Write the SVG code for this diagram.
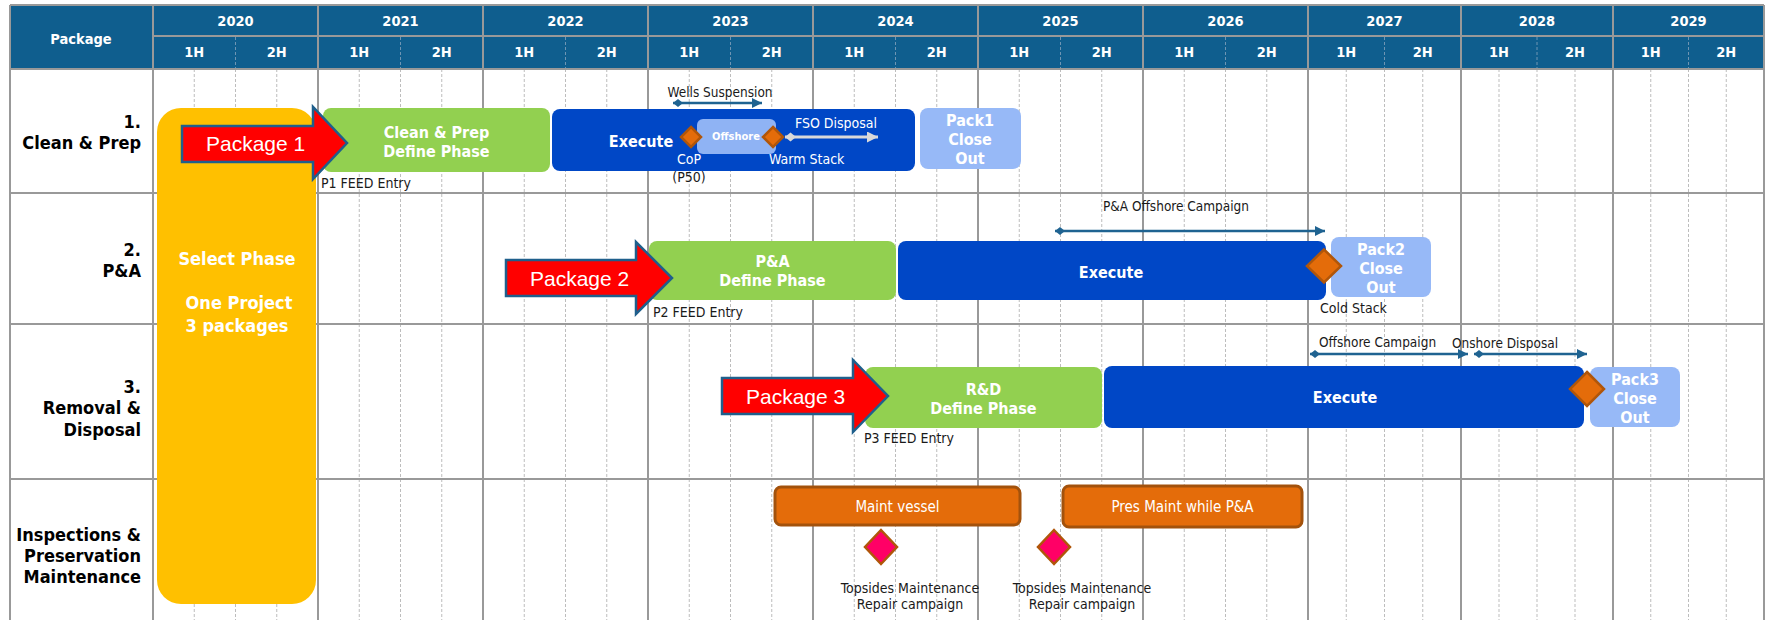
<svg xmlns="http://www.w3.org/2000/svg" width="1769" height="620" viewBox="0 0 1769 620">
<style>
.hdr{fill:#0F5E8E}
.gl{stroke:#999;stroke-width:2;fill:none}
.dl{stroke:#BDBDBD;stroke-width:1;stroke-dasharray:3 2;fill:none}
.hdl{stroke:#6F95B3;stroke-width:1;stroke-dasharray:3 2;fill:none}
.ht{font-family:"DejaVu Sans Condensed","DejaVu Sans",sans-serif;font-weight:bold;font-size:14.5px;fill:#fff;text-anchor:middle}
.rl{font-family:"DejaVu Sans Condensed","DejaVu Sans",sans-serif;font-weight:bold;font-size:18px;fill:#000;text-anchor:end}
.bt{font-family:"DejaVu Sans Condensed","DejaVu Sans",sans-serif;font-weight:bold;font-size:16px;fill:#fff;text-anchor:middle}
.st{font-family:"DejaVu Sans Condensed","DejaVu Sans",sans-serif;font-size:14px;fill:#1a1a1a}
.al{font-family:"DejaVu Sans Condensed","DejaVu Sans",sans-serif;font-size:13.5px;fill:#1a1a1a}
.wt{font-family:"DejaVu Sans Condensed","DejaVu Sans",sans-serif;font-size:14px;fill:#fff}
.pk{font-family:"Liberation Sans",Arial,sans-serif;font-size:21px;fill:#fff}
.green{fill:#92D050}
.blue{fill:#0047C6}
.lblue{fill:#97B9F7}
.red{fill:#FF0000;stroke:#1F5F8C;stroke-width:2.5;stroke-linejoin:miter}
.ms{fill:#E46C0A;stroke:#B0560A;stroke-width:2.5}
.pink{fill:#FF0066;stroke:#B0560A;stroke-width:2.5}
.ob{fill:#E46C0A;stroke:#A3520C;stroke-width:3}
.ar{stroke:#1F6391;stroke-width:2.5;fill:none}
.arg{stroke:#D9D9D9;stroke-width:3;fill:none}
</style>
<defs>
<marker id="triT" viewBox="0 0 10 10" refX="10" refY="5" markerWidth="10" markerHeight="10" markerUnits="userSpaceOnUse" orient="auto"><path d="M0,0 L10,5 L0,10 z" fill="#1F6391"/></marker>
<marker id="diaT" viewBox="0 0 10 10" refX="0" refY="5" markerWidth="10" markerHeight="10" markerUnits="userSpaceOnUse" orient="auto"><path d="M0,5 L5,1 L10,5 L5,9 z" fill="#1F6391"/></marker>
<marker id="triG" viewBox="0 0 10 10" refX="10" refY="5" markerWidth="11" markerHeight="11" markerUnits="userSpaceOnUse" orient="auto"><path d="M0,0 L10,5 L0,10 z" fill="#D9D9D9"/></marker>
<marker id="diaG" viewBox="0 0 10 10" refX="0" refY="5" markerWidth="11" markerHeight="11" markerUnits="userSpaceOnUse" orient="auto"><path d="M0,5 L5,1 L10,5 L5,9 z" fill="#D9D9D9"/></marker>
</defs>
<rect x="0" y="0" width="1769" height="620" fill="#fff"/>
<g id="grid">
<rect class="hdr" x="10" y="5" width="1754" height="64"/>
<path class="dl" d="M194.25,69V620M235.5,69V620M276.75,69V620M359.25,69V620M400.5,69V620M441.75,69V620M524.25,69V620M565.5,69V620M606.75,69V620M689.25,69V620M730.5,69V620M771.75,69V620M854.25,69V620M895.5,69V620M936.75,69V620M1019.25,69V620M1060.5,69V620M1101.75,69V620M1184.25,69V620M1225.5,69V620M1266.75,69V620M1346.25,69V620M1384.5,69V620M1422.75,69V620M1499,69V620M1537,69V620M1575,69V620M1650.75,69V620M1688.5,69V620M1726.25,69V620"/>
<path class="hdl" d="M235.5,37V68M400.5,37V68M565.5,37V68M730.5,37V68M895.5,37V68M1060.5,37V68M1225.5,37V68M1384.5,37V68M1537,37V68M1688.5,37V68"/>
<path class="gl" d="M10,5H1764M153,36H1764M10,69H1764M10,193H1764M10,324H1764M10,479H1764M10,5V620M1764,5V620M153,5V620M318,5V620M483,5V620M648,5V620M813,5V620M978,5V620M1143,5V620M1308,5V620M1461,5V620M1613,5V620"/>
<text class="ht" x="81" y="44">Package</text>
<text class="ht" x="235.5" y="26">2020</text>
<text class="ht" x="400.5" y="26">2021</text>
<text class="ht" x="565.5" y="26">2022</text>
<text class="ht" x="730.5" y="26">2023</text>
<text class="ht" x="895.5" y="26">2024</text>
<text class="ht" x="1060.5" y="26">2025</text>
<text class="ht" x="1225.5" y="26">2026</text>
<text class="ht" x="1384.5" y="26">2027</text>
<text class="ht" x="1537" y="26">2028</text>
<text class="ht" x="1688.5" y="26">2029</text>
<text class="ht" x="194.25" y="57">1H</text><text class="ht" x="276.75" y="57">2H</text>
<text class="ht" x="359.25" y="57">1H</text><text class="ht" x="441.75" y="57">2H</text>
<text class="ht" x="524.25" y="57">1H</text><text class="ht" x="606.75" y="57">2H</text>
<text class="ht" x="689.25" y="57">1H</text><text class="ht" x="771.75" y="57">2H</text>
<text class="ht" x="854.25" y="57">1H</text><text class="ht" x="936.75" y="57">2H</text>
<text class="ht" x="1019.25" y="57">1H</text><text class="ht" x="1101.75" y="57">2H</text>
<text class="ht" x="1184.25" y="57">1H</text><text class="ht" x="1266.75" y="57">2H</text>
<text class="ht" x="1346.25" y="57">1H</text><text class="ht" x="1422.75" y="57">2H</text>
<text class="ht" x="1499" y="57">1H</text><text class="ht" x="1575" y="57">2H</text>
<text class="ht" x="1650.75" y="57">1H</text><text class="ht" x="1726.25" y="57">2H</text>
</g>
<g id="row-labels">
<text class="rl" x="141" y="128">1.</text>
<text class="rl" x="141" y="149">Clean &amp; Prep</text>
<text class="rl" x="141" y="256">2.</text>
<text class="rl" x="141" y="277">P&amp;A</text>
<text class="rl" x="141" y="393">3.</text>
<text class="rl" x="141" y="414">Removal &amp;</text>
<text class="rl" x="141" y="436">Disposal</text>
<text class="rl" x="141" y="541">Inspections &amp;</text>
<text class="rl" x="141" y="562">Preservation</text>
<text class="rl" x="141" y="583">Maintenance</text>
</g>
<g id="select-phase">
<rect x="157" y="108" width="159" height="496" rx="24" fill="#FFC000"/>
<text class="bt" style="font-size:18px" x="237" y="265">Select Phase</text>
<text class="bt" style="font-size:18px" x="239" y="309">One Project</text>
<text class="bt" style="font-size:18px" x="237" y="332">3 packages</text>
</g>
<g id="p1-define">
<rect class="green" x="323" y="108" width="227" height="64" rx="8"/>
<text class="bt" x="436.5" y="138">Clean &amp; Prep</text>
<text class="bt" x="436.5" y="157">Define Phase</text>
<text class="st" x="321" y="188">P1 FEED Entry</text>
</g>
<g id="p1-execute">
<rect class="blue" x="552" y="109" width="363" height="62" rx="8"/>
<text class="bt" x="641" y="147">Execute</text>
<rect x="697" y="119" width="79" height="35" rx="6" fill="#8FB3F4"/>
<text class="bt" style="font-size:11px" x="736" y="140">Offshore</text>
<text class="wt" x="689" y="164" text-anchor="middle">CoP</text>
<text class="st" x="689" y="182" text-anchor="middle">(P50)</text>
<text class="wt" x="769" y="164">Warm Stack</text>
<text class="wt" x="836" y="128" text-anchor="middle">FSO Disposal</text>
</g>
<g id="p1-closeout">
<rect class="lblue" x="920" y="108" width="101" height="61" rx="8"/>
<text class="bt" x="970" y="126">Pack1</text>
<text class="bt" x="970" y="145">Close</text>
<text class="bt" x="970" y="164">Out</text>
</g>
<g id="p2-define">
<rect class="green" x="649" y="241" width="247" height="59" rx="8"/>
<text class="bt" x="772.5" y="267">P&amp;A</text>
<text class="bt" x="772.5" y="286">Define Phase</text>
<text class="st" x="653" y="317">P2 FEED Entry</text>
</g>
<g id="p2-execute">
<rect class="blue" x="898" y="241" width="428" height="59" rx="8"/>
<text class="bt" x="1111" y="278">Execute</text>
<text class="st" x="1320" y="313">Cold Stack</text>
</g>
<g id="p2-closeout">
<rect class="lblue" x="1331" y="237" width="100" height="60" rx="8"/>
<text class="bt" x="1381" y="255">Pack2</text>
<text class="bt" x="1381" y="274">Close</text>
<text class="bt" x="1381" y="293">Out</text>
</g>
<g id="p3-define">
<rect class="green" x="865" y="367" width="237" height="61" rx="8"/>
<text class="bt" x="983.5" y="395">R&amp;D</text>
<text class="bt" x="983.5" y="414">Define Phase</text>
<text class="st" x="864" y="443">P3 FEED Entry</text>
</g>
<g id="p3-execute">
<rect class="blue" x="1104" y="366" width="480" height="62" rx="8"/>
<text class="bt" x="1345" y="403">Execute</text>
</g>
<g id="p3-closeout">
<rect class="lblue" x="1590" y="367" width="90" height="60" rx="8"/>
<text class="bt" x="1635" y="385">Pack3</text>
<text class="bt" x="1635" y="404">Close</text>
<text class="bt" x="1635" y="423">Out</text>
</g>
<g id="maint-vessel">
<rect class="ob" x="775" y="487" width="245" height="38" rx="6"/>
<text class="wt" style="font-size:15px" x="897.5" y="512" text-anchor="middle">Maint vessel</text>
</g>
<g id="pres-maint">
<rect class="ob" x="1063" y="486" width="239" height="41" rx="6"/>
<text class="wt" style="font-size:15px" x="1182.5" y="512" text-anchor="middle">Pres Maint while P&amp;A</text>
</g>
<g id="milestones">
<path class="ms" d="M691,127 L701,137 L691,147 L681,137 z"/>
<path class="ms" d="M773,127 L783,137 L773,147 L763,137 z"/>
<path class="ms" d="M1324,249.5 L1341,266 L1324,282.5 L1307,266 z"/>
<path class="ms" d="M1587,372 L1604,389 L1587,406 L1570,389 z"/>
</g>
<g id="topsides-1">
<path class="pink" d="M881,530 L897,547 L881,564 L865,547 z"/>
<text class="st" x="910" y="593" text-anchor="middle">Topsides Maintenance</text>
<text class="st" x="910" y="609" text-anchor="middle">Repair campaign</text>
</g>
<g id="topsides-2">
<path class="pink" d="M1054,530 L1070,547 L1054,564 L1038,547 z"/>
<text class="st" x="1082" y="593" text-anchor="middle">Topsides Maintenance</text>
<text class="st" x="1082" y="609" text-anchor="middle">Repair campaign</text>
</g>
<g id="package-arrows">
<g id="package-1">
<polygon class="red" points="182,126 313,126 313,107 347,143 313,179 313,162 182,162"/>
<text class="pk" x="206" y="151">Package 1</text>
</g>
<g id="package-2">
<polygon class="red" points="506,260 636,260 636,242 672,278 636,314 636,296 506,296"/>
<text class="pk" x="530" y="286">Package 2</text>
</g>
<g id="package-3">
<polygon class="red" points="722,378 853,378 853,360 888,396 853,432 853,414 722,414"/>
<text class="pk" x="746" y="404">Package 3</text>
</g>
</g>
<g id="connectors">
<line class="ar" x1="673" y1="103" x2="762" y2="103" marker-start="url(#diaT)" marker-end="url(#triT)"/>
<text class="al" x="720" y="97" text-anchor="middle">Wells Suspension</text>
<line class="arg" x1="785" y1="137" x2="878" y2="137" marker-start="url(#diaG)" marker-end="url(#triG)"/>
<line class="ar" x1="1055" y1="231" x2="1325" y2="231" marker-start="url(#diaT)" marker-end="url(#triT)"/>
<text class="al" x="1176" y="211" text-anchor="middle">P&amp;A Offshore Campaign</text>
<line class="ar" x1="1310" y1="354" x2="1468" y2="354" marker-start="url(#diaT)" marker-end="url(#triT)"/>
<text class="al" x="1319" y="347">Offshore Campaign</text>
<line class="ar" x1="1474" y1="354" x2="1587" y2="354" marker-start="url(#diaT)" marker-end="url(#triT)"/>
<text class="al" x="1452" y="348">Onshore Disposal</text>
</g>
</svg>
